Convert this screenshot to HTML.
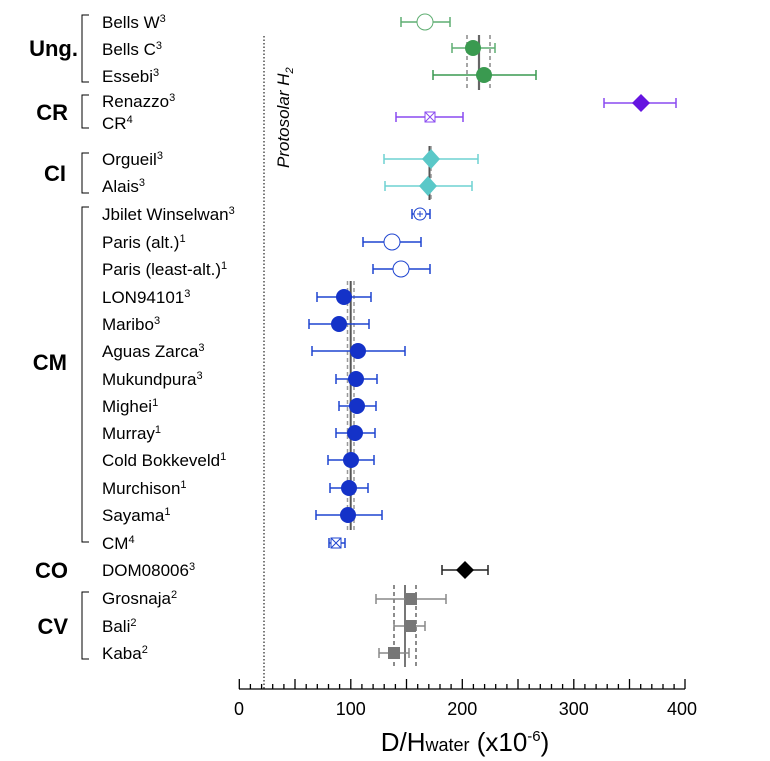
<!DOCTYPE html>
<html><head><meta charset="utf-8"><style>
html,body{margin:0;padding:0;background:#fff;}
svg{display:block;font-family:"Liberation Sans",Arial,sans-serif;}
.l{font-size:17px;fill:#000;}
.g{font-size:22px;font-weight:bold;fill:#000;}
.s{font-size:11px;}
</style></head><body>
<svg width="770" height="761" viewBox="0 0 770 761" xmlns="http://www.w3.org/2000/svg">
<g stroke="#000" stroke-width="1" fill="none">
<path d="M89 15H82V82H89"/>
<path d="M89 95H82V128H89"/>
<path d="M89 153H82V193H89"/>
<path d="M89 207H82V542H89"/>
<path d="M89 592H82V659H89"/>
</g>
<g class="g" text-anchor="end">
<text x="78" y="56">Ung.</text>
<text x="68" y="120">CR</text>
<text x="66" y="181">CI</text>
<text x="67" y="370">CM</text>
<text x="68" y="578">CO</text>
<text x="68" y="634">CV</text>
</g>
<g class="l">
<text x="102" y="28">Bells W<tspan class="s" dy="-6">3</tspan></text>
<text x="102" y="55">Bells C<tspan class="s" dy="-6">3</tspan></text>
<text x="102" y="82">Essebi<tspan class="s" dy="-6">3</tspan></text>
<text x="102" y="107">Renazzo<tspan class="s" dy="-6">3</tspan></text>
<text x="102" y="129">CR<tspan class="s" dy="-6">4</tspan></text>
<text x="102" y="165">Orgueil<tspan class="s" dy="-6">3</tspan></text>
<text x="102" y="192">Alais<tspan class="s" dy="-6">3</tspan></text>
<text x="102" y="220">Jbilet Winselwan<tspan class="s" dy="-6">3</tspan></text>
<text x="102" y="248">Paris (alt.)<tspan class="s" dy="-6">1</tspan></text>
<text x="102" y="275">Paris (least-alt.)<tspan class="s" dy="-6">1</tspan></text>
<text x="102" y="303">LON94101<tspan class="s" dy="-6">3</tspan></text>
<text x="102" y="330">Maribo<tspan class="s" dy="-6">3</tspan></text>
<text x="102" y="357">Aguas Zarca<tspan class="s" dy="-6">3</tspan></text>
<text x="102" y="385">Mukundpura<tspan class="s" dy="-6">3</tspan></text>
<text x="102" y="412">Mighei<tspan class="s" dy="-6">1</tspan></text>
<text x="102" y="439">Murray<tspan class="s" dy="-6">1</tspan></text>
<text x="102" y="466">Cold Bokkeveld<tspan class="s" dy="-6">1</tspan></text>
<text x="102" y="494">Murchison<tspan class="s" dy="-6">1</tspan></text>
<text x="102" y="521">Sayama<tspan class="s" dy="-6">1</tspan></text>
<text x="102" y="549">CM<tspan class="s" dy="-6">4</tspan></text>
<text x="102" y="576">DOM08006<tspan class="s" dy="-6">3</tspan></text>
<text x="102" y="604">Grosnaja<tspan class="s" dy="-6">2</tspan></text>
<text x="102" y="632">Bali<tspan class="s" dy="-6">2</tspan></text>
<text x="102" y="659">Kaba<tspan class="s" dy="-6">2</tspan></text>
</g>
<line x1="264" y1="36" x2="264" y2="689" stroke="#333" stroke-width="1.3" stroke-dasharray="1.5,2"/>
<text transform="translate(289,168) rotate(-90)" font-size="17" font-style="italic">Protosolar H<tspan font-size="11" dy="4">2</tspan></text>
<g stroke-width="1.5">
<line x1="479" y1="35" x2="479" y2="90" stroke="#666" stroke-width="2.2"/>
<line x1="467" y1="35" x2="467" y2="90" stroke="#888" stroke-dasharray="4,3"/>
<line x1="490" y1="35" x2="490" y2="90" stroke="#888" stroke-dasharray="4,3"/>
<line x1="429.5" y1="146" x2="429.5" y2="200" stroke="#555" stroke-width="2"/>
<line x1="431" y1="146" x2="431" y2="200" stroke="#999" stroke-dasharray="4,3"/>
<line x1="350.7" y1="281" x2="350.7" y2="530" stroke="#555" stroke-width="2"/>
<line x1="347.5" y1="281" x2="347.5" y2="530" stroke="#999" stroke-dasharray="4,3"/>
<line x1="354" y1="281" x2="354" y2="530" stroke="#999" stroke-dasharray="4,3"/>
<line x1="405" y1="585" x2="405" y2="667" stroke="#777" stroke-width="2"/>
<line x1="394" y1="585" x2="394" y2="667" stroke="#666" stroke-dasharray="4,3"/>
<line x1="416" y1="585" x2="416" y2="667" stroke="#666" stroke-dasharray="4,3"/>
</g>
<g stroke-width="1.5" fill="none">
<path stroke="#5fae72" d="M401 22H450M401 17V27M450 17V27"/>
<path stroke="#5fae72" d="M452 48H495M452 43V53M495 43V53"/>
<path stroke="#3a9a50" d="M433 75H536M433 70V80M536 70V80"/>
<path stroke="#8a4af0" d="M604 103H676M604 98V108M676 98V108"/>
<path stroke="#8a4af0" d="M396 117H463M396 112V122M463 112V122"/>
<path stroke="#6fd2d2" d="M384 159H478M384 154V164M478 154V164"/>
<path stroke="#6fd2d2" d="M385 186H472M385 181V191M472 181V191"/>
<g stroke="#1f45d0">
<path d="M412 214H430M412 209V219M430 209V219"/>
<path d="M363 242H421M363 237V247M421 237V247"/>
<path d="M373 269H430M373 264V274M430 264V274"/>
<path d="M317 297H371M317 292V302M371 292V302"/>
<path d="M309 324H369M309 319V329M369 319V329"/>
<path d="M312 351H405M312 346V356M405 346V356"/>
<path d="M336 379H377M336 374V384M377 374V384"/>
<path d="M339 406H376M339 401V411M376 401V411"/>
<path d="M336 433H375M336 428V438M375 428V438"/>
<path d="M328 460H374M328 455V465M374 455V465"/>
<path d="M330 488H368M330 483V493M368 483V493"/>
<path d="M316 515H382M316 510V520M382 510V520"/>
<path d="M329 543H345M329 538V548M345 538V548"/>
</g>
<path stroke="#222" d="M442 570H488M442 565V575M488 565V575"/>
<g stroke="#888">
<path d="M376 599H446M376 594V604M446 594V604"/>
<path d="M394 626H425M394 621V631M425 621V631"/>
<path d="M379 653H409M379 648V658M409 648V658"/>
</g>
</g>
<circle cx="425" cy="22" r="8" fill="#fff" stroke="#5fae72" stroke-width="1"/>
<circle cx="473" cy="48" r="8" fill="#3a9a50"/>
<circle cx="484" cy="75" r="8" fill="#3a9a50"/>
<path d="M641 94L650 103L641 112L632 103Z" fill="#6515e0"/>
<g stroke="#8a4af0" fill="#fff" stroke-width="1"><rect x="425" y="112" width="10" height="10"/><path d="M425 112L435 122M435 112L425 122"/></g>
<path d="M431 149L440 159L431 169L422 159Z" fill="#5ac8c8"/>
<path d="M428 176L437 186L428 196L419 186Z" fill="#5ac8c8"/>
<g stroke="#1f45d0" fill="#fff" stroke-width="1"><circle cx="420" cy="214" r="6"/><path d="M417 214H423M420 211V217"/></g>
<circle cx="392" cy="242" r="8" fill="#fff" stroke="#1f45d0" stroke-width="1"/>
<circle cx="401" cy="269" r="8" fill="#fff" stroke="#1f45d0" stroke-width="1"/>
<g fill="#1432c8">
<circle cx="344" cy="297" r="8"/>
<circle cx="339" cy="324" r="8"/>
<circle cx="358" cy="351" r="8"/>
<circle cx="356" cy="379" r="8"/>
<circle cx="357" cy="406" r="8"/>
<circle cx="355" cy="433" r="8"/>
<circle cx="351" cy="460" r="8"/>
<circle cx="349" cy="488" r="8"/>
<circle cx="348" cy="515" r="8"/>
</g>
<g stroke="#1f45d0" fill="#fff" stroke-width="1"><rect x="331" y="538" width="10" height="10"/><path d="M331 538L341 548M341 538L331 548"/></g>
<path d="M465 561L474 570L465 579L456 570Z" fill="#000"/>
<g fill="#777">
<rect x="405" y="593" width="12" height="12"/>
<rect x="404" y="620" width="12" height="12"/>
<rect x="388" y="647" width="12" height="12"/>
</g>
<g stroke="#000" stroke-width="1.3">
<line x1="239" y1="689" x2="685" y2="689"/>
<path d="M239.3 679V689M295 679V689M350.8 679V689M406.5 679V689M462.3 679V689M518 679V689M573.8 679V689M629.5 679V689M685 679V689"/>
<path d="M250.4 684V689M261.6 684V689M272.7 684V689M283.9 684V689M306.2 684V689M317.3 684V689M328.5 684V689M339.6 684V689M361.9 684V689M373.1 684V689M384.2 684V689M395.4 684V689M417.7 684V689M428.8 684V689M440 684V689M451.1 684V689M473.4 684V689M484.6 684V689M495.7 684V689M506.9 684V689M529.2 684V689M540.3 684V689M551.5 684V689M562.6 684V689M584.9 684V689M596.1 684V689M607.2 684V689M618.4 684V689M640.7 684V689M651.8 684V689M663 684V689M674.1 684V689"/>
</g>
<g font-size="18" text-anchor="middle">
<text x="239" y="715">0</text>
<text x="350.8" y="715">100</text>
<text x="462.3" y="715">200</text>
<text x="573.8" y="715">300</text>
<text x="682" y="715">400</text>
</g>
<text x="465" y="751" font-size="26" text-anchor="middle">D/H<tspan font-size="18">water</tspan> (x10<tspan font-size="15" dy="-10">-6</tspan><tspan dy="10">)</tspan></text>
</svg>
</body></html>
